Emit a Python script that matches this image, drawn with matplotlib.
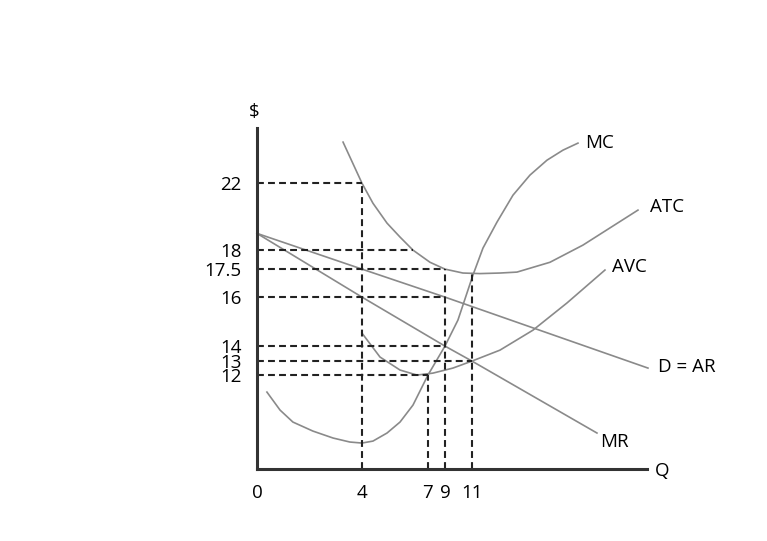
import numpy as np
import matplotlib.pyplot as plt

plt.rcParams['font.family'] = ['Open Sans', 'DejaVu Sans']

# axis marks
q_ticks = [0, 4, 7, 9, 11]
q_labels = ['0', '4', '7', '9', '11']
p_ticks = [12, 13, 14, 16, 17.5, 18, 22]
p_labels = ['12', '13', '14', '16', '17.5', '18', '22']

# curves (Q, $)
mc_q = [0.38, 0.88, 1.37, 2.13, 2.9, 3.54, 4.0, 4.5, 5.14, 5.73, 6.32, 7.0, 9.0, 9.96,
        10.33, 11.05, 11.55, 12.25, 13.05, 13.9, 14.75, 15.55, 16.3]
mc_p = [9.83, 7.53, 6.0, 4.85, 3.96, 3.45, 3.32, 3.57, 4.6, 6.0, 8.17, 12.0, 14.0, 15.06,
        15.67, 17.18, 18.12, 19.67, 21.28, 22.48, 23.37, 23.97, 24.39]

atc_q = [3.28, 4.0, 4.5, 5.14, 5.73, 6.32, 7.24, 9.0, 10.33, 11.4, 12.4, 13.25, 14.9, 16.55, 19.3]
atc_p = [24.45, 22.0, 20.8, 19.61, 18.78, 18.0, 17.68, 17.5, 17.29, 17.26, 17.29, 17.34, 17.68, 18.3, 20.39]

avc_q = [4.0, 4.82, 5.73, 6.5, 7.59, 9.59, 11.0, 12.4, 14.05, 15.75, 17.65]
avc_p = [14.53, 13.27, 12.36, 12.0, 12.14, 12.5, 13.0, 13.73, 14.65, 15.76, 17.45]

d_q = [0, 4, 9, 19.8]
d_p = [19.0, 17.5, 16.0, 12.5]

mr_q = [0, 4, 9, 11, 17.25]
mr_p = [19.0, 16.0, 14.0, 13.0, 4.6]

# dashed guides: (price, quantity reached) and (quantity, price reached)
h_guides = [(22, 4), (18, 6.32), (17.5, 9), (16, 9), (14, 9), (13, 11), (12, 7)]
v_guides = [(4, 22), (9, 17.5), (11, 17.29), (7, 12)]

# the sketch is not drawn to scale -> piecewise scale
q_anchor = [-10, 0, 4, 7, 9, 11, 100]
u_anchor = [-262.5, 0, 105, 171, 188, 215, 1995]
p_anchor = [-10, 0, 12, 13, 14, 16, 17.5, 18, 22, 100]
v_anchor = [-78.3, 0, 94, 108, 123, 172, 200, 219, 286, 1592.5]


def fx(q):
    return np.interp(q, q_anchor, u_anchor)


def ix(u):
    return np.interp(u, u_anchor, q_anchor)


def fy(p):
    return np.interp(p, p_anchor, v_anchor)


def iy(v):
    return np.interp(v, v_anchor, p_anchor)


fig = plt.figure(figsize=(7.67, 5.41), dpi=100)
ax = fig.add_axes([0.335, 0.133, 0.5085, 0.630])
ax.set_xscale('function', functions=(fx, ix))
ax.set_yscale('function', functions=(fy, iy))
ax.set_xlim(0, 19.75)
ax.set_ylim(0, 25.28)

curve = dict(color='#8a8a8a', lw=1.2, clip_on=False, solid_joinstyle='round')
ax.plot(mc_q, mc_p, **curve)
ax.plot(atc_q, atc_p, **curve)
ax.plot(avc_q, avc_p, **curve)
ax.plot(d_q, d_p, **curve)
ax.plot(mr_q, mr_p, **curve)

dash = (0, (3.3, 2))
for p, q in h_guides:
    ax.hlines(p, 0, q, colors='#222222', linestyles=dash, lw=1.5)
for q, p in v_guides:
    ax.vlines(q, 0, p, colors='#222222', linestyles=dash, lw=1.5)

lab = dict(textcoords='offset pixels', fontsize=13.5, va='center', ha='left', annotation_clip=False)
ax.annotate('MC', (mc_q[-1], mc_p[-1]), xytext=(7, 0), **lab)
ax.annotate('ATC', (atc_q[-1], atc_p[-1]), xytext=(12, 3), **lab)
ax.annotate('AVC', (avc_q[-1], avc_p[-1]), xytext=(7, 3), **lab)
ax.annotate('D = AR', (d_q[-1], d_p[-1]), xytext=(10, 1), **lab)
ax.annotate('MR', (mr_q[-1], mr_p[-1]), xytext=(3, -9), **lab)
ax.annotate('Q', (1, 0), xycoords='axes fraction', xytext=(8, -2), **lab)
ax.annotate('$', (0, 1), xycoords='axes fraction', xytext=(-3, 16),
            textcoords='offset pixels', fontsize=13.5, ha='center', va='center')

ax.set_xticks(q_ticks, q_labels)
ax.set_yticks(p_ticks, p_labels)
ax.tick_params(axis='x', length=0, pad=11, labelsize=13.5)
ax.tick_params(axis='y', length=0, pad=11, labelsize=13.5)
ax.minorticks_off()

for s in ['top', 'right']:
    ax.spines[s].set_visible(False)
for s in ['left', 'bottom']:
    ax.spines[s].set_linewidth(2.2)
    ax.spines[s].set_color('#333333')

fig.savefig('out.png', dpi=100)
